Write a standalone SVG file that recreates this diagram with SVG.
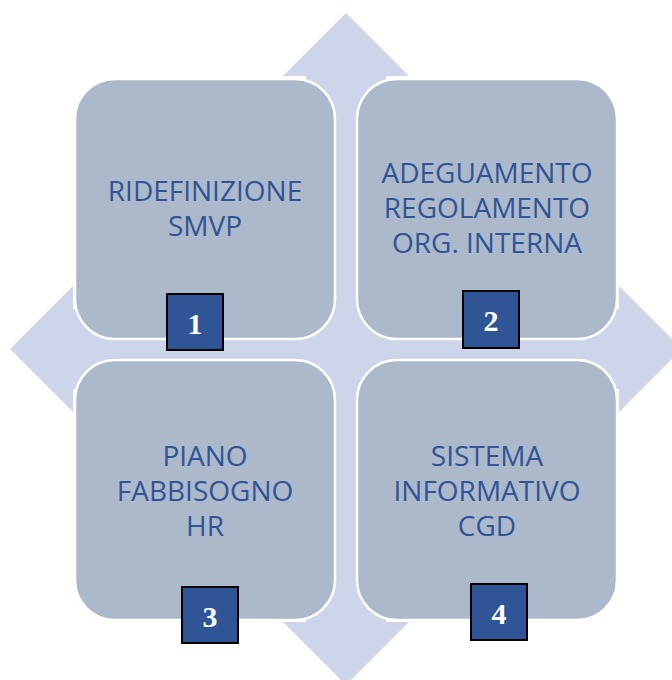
<svg xmlns="http://www.w3.org/2000/svg" width="672" height="680" viewBox="0 0 672 680">
  <style>
    .box { fill: #ACB9CA; stroke: #FFFFFF; stroke-width: 2.5; }
    .lbl { font-family: "Open Sans", "Liberation Sans", sans-serif; font-size: 28px; fill: #2F5597; text-anchor: middle; }
    .numbox { fill: #2F5597; stroke: #000000; stroke-width: 2; }
    .num { font-family: "Liberation Serif", "Times New Roman", serif; font-size: 30px; font-weight: bold; fill: #FFFFFF; text-anchor: middle; }
  </style>
  <rect width="672" height="680" fill="#FFFFFF"/>
  <g id="background-arrows">
    <polygon fill="#CED4EA" points="346,13 409,76 386,76 386,309 619,309 619,286 682,349 619,412 619,389 386,389 386,622 409,622 346,685 283,622 306,622 306,389 73,389 73,412 10,349 73,286 73,309 306,309 306,76 283,76"/>
  </g>
  <g id="node1">
    <rect class="box" x="75" y="79" width="260" height="260" rx="40" ry="40"/>
    <text class="lbl" x="205" y="201">RIDEFINIZIONE</text>
    <text class="lbl" x="205" y="236">SMVP</text>
    <rect class="numbox" x="167" y="294" width="56" height="56"/>
    <text class="num" x="195" y="334">1</text>
  </g>
  <g id="node2">
    <rect class="box" x="357" y="79" width="260" height="260" rx="40" ry="40"/>
    <text class="lbl" x="487" y="183">ADEGUAMENTO</text>
    <text class="lbl" x="487" y="218">REGOLAMENTO</text>
    <text class="lbl" x="487" y="253">ORG. INTERNA</text>
    <rect class="numbox" x="463" y="291" width="56" height="57"/>
    <text class="num" x="491" y="331">2</text>
  </g>
  <g id="node3">
    <rect class="box" x="75" y="360" width="260" height="260" rx="40" ry="40"/>
    <text class="lbl" x="205" y="466">PIANO</text>
    <text class="lbl" x="205" y="501">FABBISOGNO</text>
    <text class="lbl" x="205" y="536">HR</text>
    <rect class="numbox" x="182" y="587" width="56" height="56"/>
    <text class="num" x="210" y="627">3</text>
  </g>
  <g id="node4">
    <rect class="box" x="357" y="360" width="260" height="260" rx="40" ry="40"/>
    <text class="lbl" x="487" y="466">SISTEMA</text>
    <text class="lbl" x="487" y="501">INFORMATIVO</text>
    <text class="lbl" x="487" y="536">CGD</text>
    <rect class="numbox" x="471" y="584" width="56" height="56"/>
    <text class="num" x="499" y="624">4</text>
  </g>
  <g id="connectors"></g>
</svg>
